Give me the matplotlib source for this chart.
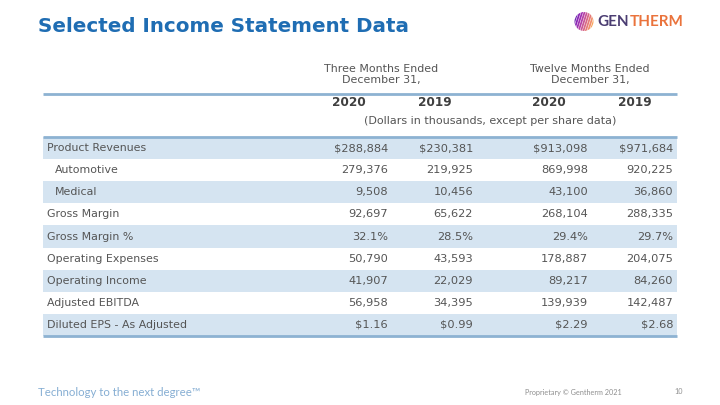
import matplotlib
matplotlib.use("Agg")
import matplotlib.pyplot as plt
import numpy as np
from matplotlib.patches import Rectangle, Circle

# ---- data ----
title = "Selected Income Statement Data"
group_labels = ["Three Months Ended\nDecember 31,", "Twelve Months Ended\nDecember 31,"]
year_labels = ["2020", "2019", "2020", "2019"]
units_note = "(Dollars in thousands, except per share data)"
row_labels = ["Product Revenues", "Automotive", "Medical", "Gross Margin", "Gross Margin %",
              "Operating Expenses", "Operating Income", "Adjusted EBITDA", "Diluted EPS - As Adjusted"]
row_indent = [0, 1, 1, 0, 0, 0, 0, 0, 0]
q4_2020 = ["$288,884", "279,376", "9,508", "92,697", "32.1%", "50,790", "41,907", "56,958", "$1.16"]
q4_2019 = ["$230,381", "219,925", "10,456", "65,622", "28.5%", "43,593", "22,029", "34,395", "$0.99"]
fy_2020 = ["$913,098", "869,998", "43,100", "268,104", "29.4%", "178,887", "89,217", "139,939", "$2.29"]
fy_2019 = ["$971,684", "920,225", "36,860", "288,335", "29.7%", "204,075", "84,260", "142,487", "$2.68"]
footer_left = "Technology to the next degree\u2122"
footer_right = "Proprietary \u00a9 Gentherm 2021"
page_no = "10"

# ---- layout / style ----
W, H = 720, 405
TITLE_C = "#1f6db3"
BAND_C = "#d5e4f1"
LINE_C = "#8db2d2"
TXT_C = "#555555"
HDR_C = "#3f3f3f"
FONT = "DejaVu Sans"
FS_LAB = 7.9
FS_NUM = 8.2

fig = plt.figure(figsize=(7.2, 4.05), dpi=100)
ax = fig.add_axes([0, 0, 1, 1])
ax.set_xlim(0, W)
ax.set_ylim(H, 0)
ax.axis("off")

ax.text(38, 27, title, fontsize=14.3, fontweight="bold", color=TITLE_C, family=FONT,
        ha="left", va="center")

# logo
cx, cy, r = 584, 21.5, 9.5
clip = Circle((cx, cy), r, transform=ax.transData, facecolor="none", edgecolor="none")
ax.add_patch(clip)
cols = plt.cm.plasma(np.linspace(0.15, 0.75, 9))
for i, xx in enumerate(np.linspace(cx - r, cx + r, 9)):
    ln, = ax.plot([xx - 3, xx + 3], [cy + r, cy - r], color=cols[i], lw=1.3, alpha=0.85)
    ln.set_clip_path(clip)
ax.text(597, 22, "GEN", fontsize=11, fontweight="bold", color="#4b3d72", family="Lato",
        ha="left", va="center")
ax.text(630, 22, "THERM", fontsize=11, fontweight="bold", color="#ea733c", family="Lato",
        ha="left", va="center")

# table geometry
x0, x1 = 43, 677
top, bottom = 137, 336
n = len(row_labels)
rh = (bottom - top) / n
val_right = [388, 473, 588, 673]
year_cx = [349, 435, 549, 635]
group_cx = [381, 590]

# header
for g, gx in zip(group_labels, group_cx):
    ax.text(gx, 74.5, g, fontsize=FS_LAB, color=TXT_C, family=FONT, ha="center", va="center",
            linespacing=1.2)
ax.plot([x0, x1], [94, 94], color=LINE_C, lw=2, solid_capstyle="butt")
for yl, yx in zip(year_labels, year_cx):
    ax.text(yx, 102, yl, fontsize=8.7, fontweight="bold", color=HDR_C, family=FONT,
            ha="center", va="center")
ax.text(490, 121.5, units_note, fontsize=8.0, color=TXT_C, family=FONT, ha="center", va="center")

# bands
for i in range(n):
    y = top + i * rh
    if i % 2 == 0:
        ax.add_patch(Rectangle((x0, y), x1 - x0, rh, facecolor=BAND_C, edgecolor="none"))
ax.plot([x0, x1], [top, top], color=LINE_C, lw=2, solid_capstyle="butt")
ax.plot([x0, x1], [bottom, bottom], color=LINE_C, lw=2, solid_capstyle="butt")

cols_vals = [q4_2020, q4_2019, fy_2020, fy_2019]
for i, lab in enumerate(row_labels):
    yc = top + (i + 0.5) * rh
    ax.text(47 + 8 * row_indent[i], yc, lab, fontsize=FS_LAB, color=TXT_C, family=FONT,
            ha="left", va="center")
    for vals, xr in zip(cols_vals, val_right):
        ax.text(xr, yc, vals[i], fontsize=FS_NUM, color=TXT_C, family=FONT, ha="right", va="center")

# footer
ax.text(38, 392, footer_left, fontsize=8.2, color="#86aed3", family="Lato",
        ha="left", va="center")
ax.text(622, 392, footer_right, fontsize=5.2, color="#8f8f8f", family="Lato", ha="right",
        va="center")
ax.text(683, 392, page_no, fontsize=5.2, color="#8f8f8f", family="Lato", ha="right", va="center")

fig.savefig("out.png", dpi=100, facecolor="white")
